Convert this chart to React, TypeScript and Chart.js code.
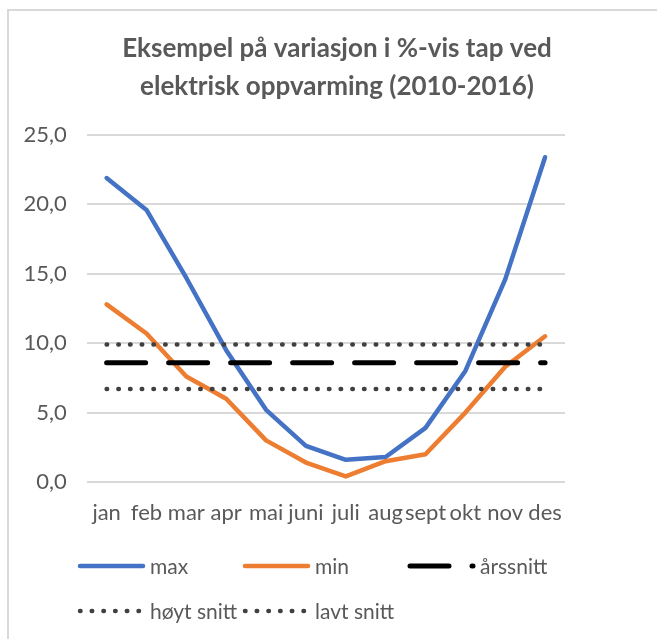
import { useEffect, useRef } from "react";
import { Chart, registerables } from "chart.js";

Chart.register(...registerables);

const categories = ["jan", "feb", "mar", "apr", "mai", "juni", "juli", "aug", "sept", "okt", "nov", "des"];
const maxValues = [21.9, 19.6, 14.7, 9.5, 5.2, 2.6, 1.6, 1.8, 3.9, 8.0, 14.6, 23.4];
const minValues = [12.8, 10.7, 7.6, 6.0, 3.0, 1.4, 0.4, 1.5, 2.0, 5.0, 8.3, 10.5];
const yearAvg = [8.6, 8.6, 8.6, 8.6, 8.6, 8.6, 8.6, 8.6, 8.6, 8.6, 8.6, 8.6];
const highAvg = [9.9, 9.9, 9.9, 9.9, 9.9, 9.9, 9.9, 9.9, 9.9, 9.9, 9.9, 9.9];
const lowAvg = [6.7, 6.7, 6.7, 6.7, 6.7, 6.7, 6.7, 6.7, 6.7, 6.7, 6.7, 6.7];
const seriesNames = ["max", "min", "årssnitt", "høyt snitt", "lavt snitt"];
const titleLines = ["Eksempel på variasjon i %-vis tap ved", "elektrisk oppvarming (2010-2016)"];

const TEXT = "#595959";
const FONT = "Lato";

const excelLegend = {
  id: "excelLegend",
  afterDraw(chart: any) {
    const ctx = chart.ctx as CanvasRenderingContext2D;
    chart.data.datasets.forEach((ds: any, i: number) => {
      const col = i % 3;
      const row = Math.floor(i / 3);
      const x0 = 78 + col * 165;
      const y = 566 + row * 45;
      ctx.save();
      ctx.strokeStyle = ds.borderColor;
      ctx.lineWidth = ds.borderWidth;
      ctx.setLineDash(ds.borderDash || []);
      ctx.lineCap = ds.borderCapStyle || "butt";
      ctx.beginPath();
      ctx.moveTo(x0 + 2, y);
      ctx.lineTo(x0 + 65, y);
      ctx.stroke();
      ctx.setLineDash([]);
      ctx.fillStyle = TEXT;
      ctx.font = `21px ${FONT}`;
      ctx.textBaseline = "middle";
      ctx.textAlign = "left";
      ctx.fillText(ds.label, x0 + 72, y + 1);
      ctx.restore();
    });
  },
};

export default function App() {
  const ref = useRef<HTMLCanvasElement | null>(null);

  useEffect(() => {
    if (!ref.current) return;
    const chart = new Chart(ref.current, {
      type: "line",
      data: {
        labels: categories,
        datasets: [
          {
            label: seriesNames[0],
            data: maxValues,
            borderColor: "#4472C4",
            borderWidth: 4.5,
            borderCapStyle: "round",
            borderJoinStyle: "round",
            pointRadius: 0,
            order: 5,
          },
          {
            label: seriesNames[1],
            data: minValues,
            borderColor: "#ED7D31",
            borderWidth: 4.5,
            borderCapStyle: "round",
            borderJoinStyle: "round",
            pointRadius: 0,
            order: 4,
          },
          {
            label: seriesNames[2],
            data: yearAvg,
            borderColor: "#000000",
            borderWidth: 5,
            borderDash: [39, 23],
            borderCapStyle: "round",
            pointRadius: 0,
            order: 3,
          },
          {
            label: seriesNames[3],
            data: highAvg,
            borderColor: "#404040",
            borderWidth: 4.5,
            borderDash: [0.5, 11.2],
            borderCapStyle: "round",
            pointRadius: 0,
            order: 2,
          },
          {
            label: seriesNames[4],
            data: lowAvg,
            borderColor: "#404040",
            borderWidth: 4.5,
            borderDash: [0.5, 11.2],
            borderCapStyle: "round",
            pointRadius: 0,
            order: 1,
          },
        ],
      },
      options: {
        responsive: false,
        animation: false,
        layout: { padding: { left: 17, right: 0, top: 0, bottom: 107 } },
        plugins: {
          legend: { display: false },
          tooltip: { enabled: false },
          title: {
            display: true,
            text: titleLines,
            color: TEXT,
            font: { family: FONT, size: 26, weight: "bold", lineHeight: 38 / 26 },
            padding: { top: 30, bottom: 29 },
          },
        },
        scales: {
          x: {
            type: "category",
            offset: true,
            grid: { display: false, drawTicks: false },
            border: { display: false },
            ticks: { color: TEXT, font: { family: FONT, size: 22 }, padding: 18, maxRotation: 0, autoSkip: false },
            afterFit: (s: any) => {
              s.height = 50;
            },
          },
          y: {
            min: 0,
            max: 25,
            position: "left",
            grid: { color: "#d9d9d9", lineWidth: 2, drawTicks: false },
            border: { display: false },
            ticks: {
              stepSize: 5,
              color: TEXT,
              font: { family: FONT, size: 22 },
              padding: 20,
              callback: (v: any) => Number(v).toFixed(1).replace(".", ","),
            },
            afterFit: (s: any) => {
              s.width = 69.7;
            },
          },
          y2: {
            position: "right",
            display: true,
            grid: { display: false, drawTicks: false },
            border: { display: false },
            ticks: { display: false },
            afterFit: (s: any) => {
              s.width = 92;
            },
          },
        },
      },
      plugins: [excelLegend],
    });
    return () => chart.destroy();
  }, []);

  return (
    <div style={{ position: "absolute", left: 0, top: 0, width: 657, height: 639, overflow: "hidden", background: "#fff" }}>
      <div
        style={{
          position: "absolute",
          left: 7,
          top: 9,
          width: 660,
          height: 640,
          border: "2px solid #d9d9d9",
        }}
      />
      <canvas ref={ref} width={657} height={639} style={{ position: "absolute", left: 0, top: 0 }} />
    </div>
  );
}
